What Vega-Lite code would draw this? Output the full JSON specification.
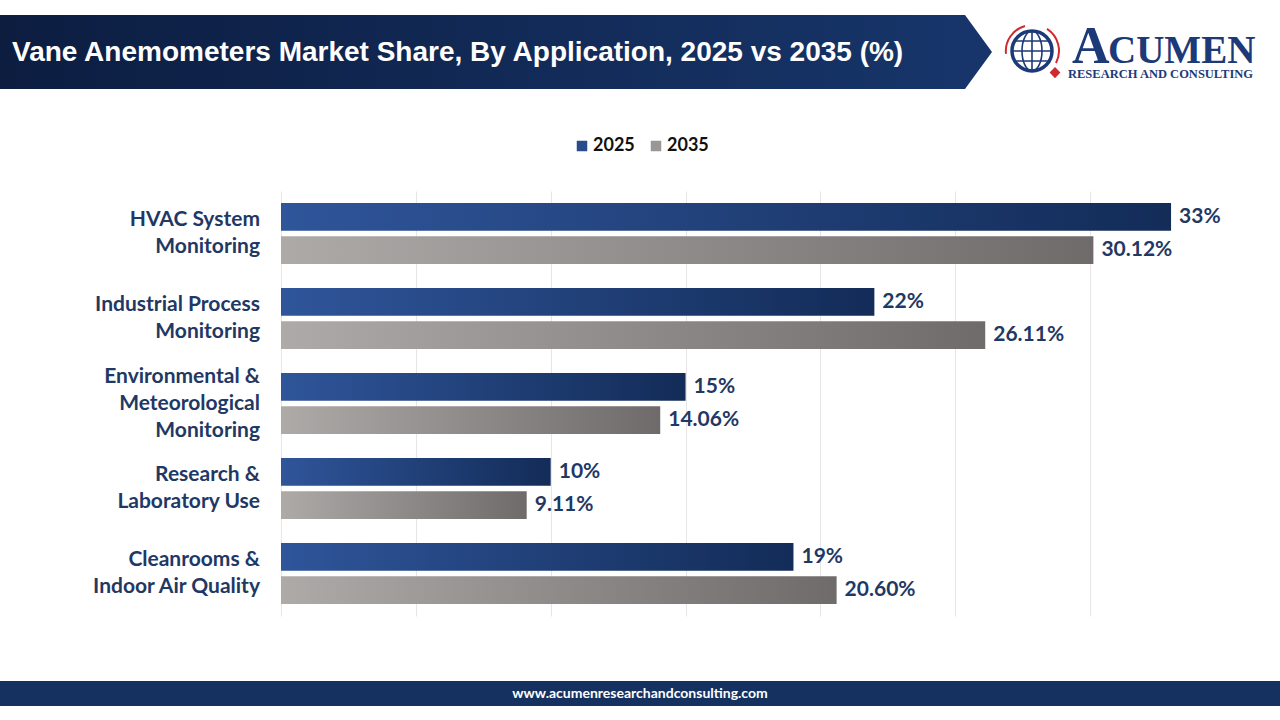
{
  "$schema": "https://vega.github.io/schema/vega-lite/v6.json",
  "background": "white",
  "padding": {"left": 0, "top": 15, "right": 0, "bottom": 14},
  "config": {"view": {"stroke": null}, "font": "Lato"},
  "datasets": {
    "shares": [
      {"category": "HVAC System\nMonitoring", "year": "2025", "value": 33, "label": "33%"},
      {"category": "HVAC System\nMonitoring", "year": "2035", "value": 30.12, "label": "30.12%"},
      {"category": "Industrial Process\nMonitoring", "year": "2025", "value": 22, "label": "22%"},
      {"category": "Industrial Process\nMonitoring", "year": "2035", "value": 26.11, "label": "26.11%"},
      {"category": "Environmental &\nMeteorological\nMonitoring", "year": "2025", "value": 15, "label": "15%"},
      {"category": "Environmental &\nMeteorological\nMonitoring", "year": "2035", "value": 14.06, "label": "14.06%"},
      {"category": "Research &\nLaboratory Use", "year": "2025", "value": 10, "label": "10%"},
      {"category": "Research &\nLaboratory Use", "year": "2035", "value": 9.11, "label": "9.11%"},
      {"category": "Cleanrooms &\nIndoor Air Quality", "year": "2025", "value": 19, "label": "19%"},
      {"category": "Cleanrooms &\nIndoor Air Quality", "year": "2035", "value": 20.6, "label": "20.60%"}
    ]
  },
  "spacing": 0,
  "bounds": "full",
  "resolve": {"scale": {"x": "independent", "y": "independent", "color": "independent"}},
  "vconcat": [
    {
      "spacing": 0,
      "bounds": "flush",
      "resolve": {"scale": {"x": "independent", "y": "independent"}},
      "hconcat": [
        {
          "width": 965,
          "height": 74,
          "data": {"values": [{"title": "Vane Anemometers Market Share, By Application, 2025 vs 2035 (%)"}]},
          "layer": [
            {
              "mark": {"type": "rect", "color": {"gradient": "linear", "x1": 0, "x2": 1, "y1": 0, "y2": 0, "stops": [{"offset": 0, "color": "#0c1d40"}, {"offset": 1, "color": "#17356a"}]}},
              "encoding": {
                "x": {"datum": 0, "type": "quantitative", "scale": {"domain": [0, 1]}, "axis": null},
                "x2": {"datum": 1},
                "y": {"datum": 0, "type": "quantitative", "scale": {"domain": [0, 1]}, "axis": null},
                "y2": {"datum": 1}
              }
            },
            {
              "mark": {"type": "text", "align": "left", "baseline": "middle", "dx": 12, "dy": 1, "font": "Liberation Sans", "fontWeight": "bold", "fontSize": 28, "color": "white"},
              "encoding": {
                "x": {"datum": 0, "type": "quantitative"},
                "y": {"datum": 0.5, "type": "quantitative"},
                "text": {"field": "title"}
              }
            }
          ]
        },
        {
          "width": 315,
          "height": 74,
          "data": {"values": [{"a": "A", "c": "CUMEN", "b": "RESEARCH AND CONSULTING"}]},
          "encoding": {
            "x": {"datum": 0, "type": "quantitative", "scale": {"domain": [0, 1]}, "axis": null},
            "y": {"datum": 0.5, "type": "quantitative", "scale": {"domain": [0, 1]}, "axis": null}
          },
          "layer": [
            {
              "mark": {"type": "point", "shape": "M 0 -1 L 0.73 0 L 0 1 Z", "size": 5476, "filled": true, "color": "#17356a", "strokeWidth": 0, "opacity": 1}
            },
            {
              "mark": {"type": "point", "shape": "M -1 0 A 1 1 0 1 1 1 0 A 1 1 0 1 1 -1 0 Z", "size": 1600, "filled": false, "stroke": "#1d3a78", "strokeWidth": 3.5, "opacity": 1},
              "encoding": {"x": {"datum": 0.2127, "type": "quantitative"}, "y": {"datum": 0.514, "type": "quantitative"}}
            },
            {
              "mark": {"type": "point", "shape": "M 0 -1 A 0.5 1 0 1 1 0 1 A 0.5 1 0 1 1 0 -1 M -1 0 L 1 0 M -0.85 -0.5 L 0.85 -0.5 M -0.85 0.5 L 0.85 0.5 M 0 -1 L 0 1", "size": 1600, "filled": false, "stroke": "#1d3a78", "strokeWidth": 1.6, "opacity": 1},
              "encoding": {"x": {"datum": 0.2127, "type": "quantitative"}, "y": {"datum": 0.514, "type": "quantitative"}}
            },
            {
              "mark": {"type": "point", "shape": "M -1.3 0.15 A 1.3 1.3 0 0 1 -0.35 -1.25 M 0.75 -1.1 A 1.3 1.3 0 0 1 1.2 0.6", "size": 1600, "filled": false, "stroke": "#cf2a2f", "strokeWidth": 2, "opacity": 1},
              "encoding": {"x": {"datum": 0.2127, "type": "quantitative"}, "y": {"datum": 0.514, "type": "quantitative"}}
            },
            {
              "mark": {"type": "point", "shape": "M 1.15 0.8 L 1.42 1.08 L 1.15 1.36 L 0.88 1.08 Z", "size": 1600, "filled": true, "color": "#cf2a2f", "strokeWidth": 0, "opacity": 1},
              "encoding": {"x": {"datum": 0.2127, "type": "quantitative"}, "y": {"datum": 0.514, "type": "quantitative"}}
            },
            {
              "mark": {"type": "text", "align": "left", "baseline": "alphabetic", "font": "Liberation Serif", "fontWeight": "bold", "fontSize": 52, "color": "#1d3a78"},
              "encoding": {
                "x": {"datum": 0.34, "type": "quantitative"},
                "y": {"datum": 0.351, "type": "quantitative"},
                "text": {"field": "a"}
              }
            },
            {
              "mark": {"type": "text", "align": "left", "baseline": "alphabetic", "font": "Liberation Serif", "fontWeight": "bold", "fontSize": 39, "color": "#1d3a78"},
              "encoding": {
                "x": {"datum": 0.454, "type": "quantitative"},
                "y": {"datum": 0.351, "type": "quantitative"},
                "text": {"field": "c"}
              }
            },
            {
              "mark": {"type": "text", "align": "left", "baseline": "alphabetic", "font": "Liberation Serif", "fontWeight": "bold", "fontSize": 12.5, "color": "#1d3a78"},
              "encoding": {
                "x": {"datum": 0.327, "type": "quantitative"},
                "y": {"datum": 0.149, "type": "quantitative"},
                "text": {"field": "b"}
              }
            }
          ]
        }
      ]
    },
    {
      "width": 1280,
      "height": 102,
      "data": {"values": [{"year": "2025"}, {"year": "2035"}]},
      "mark": {"type": "bar"},
      "encoding": {
        "x": {"datum": 0, "type": "quantitative", "stack": null, "scale": {"domain": [0, 1]}, "axis": null},
        "color": {"field": "year", "type": "nominal", "scale": {"domain": ["2025", "2035"], "range": ["#2a4c8a", "#9a9796"]},
          "legend": {"orient": "none", "legendX": 573, "legendY": 48, "direction": "horizontal", "title": null, "symbolType": "square", "symbolSize": 110, "symbolStrokeWidth": 0, "labelFontSize": 18, "labelFontWeight": "bold", "labelFont": "Lato", "labelColor": "#111111", "columnPadding": 12, "labelOffset": 2}}
      }
    },
    {
      "spacing": 21,
      "bounds": "flush",
      "resolve": {"scale": {"x": "independent", "y": "independent", "color": "independent"}},
      "hconcat": [
        {
          "width": 260,
          "height": 425,
          "data": {"name": "shares"},
          "transform": [
            {"filter": "datum.year == '2025'"},
            {"calculate": "split(datum.category, '\\n')", "as": "lines"}
          ],
          "encoding": {
            "y": {"field": "category", "type": "nominal", "scale": {"domain": ["HVAC System\nMonitoring", "Industrial Process\nMonitoring", "Environmental &\nMeteorological\nMonitoring", "Research &\nLaboratory Use", "Cleanrooms &\nIndoor Air Quality"], "paddingInner": 0.28, "paddingOuter": 0.14}, "axis": null},
            "x": {"datum": 1, "type": "quantitative", "scale": {"domain": [0, 1]}, "axis": null},
            "text": {"field": "lines"}
          },
          "layer": [
            {
              "transform": [{"filter": "length(datum.lines) == 2"}],
              "mark": {"type": "text", "align": "right", "baseline": "middle", "dy": -13.5, "fontSize": 21, "fontWeight": "bold", "color": "#1f3864", "lineHeight": 27}
            },
            {
              "transform": [{"filter": "length(datum.lines) == 3"}],
              "mark": {"type": "text", "align": "right", "baseline": "middle", "dy": -27, "fontSize": 21, "fontWeight": "bold", "color": "#1f3864", "lineHeight": 27}
            }
          ]
        },
        {
          "width": 944,
          "height": 425,
          "data": {"name": "shares"},
          "encoding": {
            "y": {"field": "category", "type": "nominal", "scale": {"domain": ["HVAC System\nMonitoring", "Industrial Process\nMonitoring", "Environmental &\nMeteorological\nMonitoring", "Research &\nLaboratory Use", "Cleanrooms &\nIndoor Air Quality"], "paddingInner": 0.28, "paddingOuter": 0.14}, "axis": null},
            "yOffset": {"field": "year", "type": "nominal", "scale": {"domain": ["2025", "2035"], "paddingInner": 0.16, "paddingOuter": 0}},
            "x": {"field": "value", "type": "quantitative", "scale": {"domain": [0, 35], "nice": false}, "axis": {"values": [0, 5, 10, 15, 20, 25, 30], "labels": false, "ticks": false, "domain": false, "grid": true, "gridColor": "#e6e6e6", "gridWidth": 1, "title": null}}
          },
          "layer": [
            {
              "transform": [{"filter": "datum.year == '2025'"}],
              "mark": {"type": "bar", "color": {"gradient": "linear", "x1": 0, "x2": 1, "y1": 0, "y2": 0, "stops": [{"offset": 0, "color": "#2f559a"}, {"offset": 1, "color": "#132c58"}]}}
            },
            {
              "transform": [{"filter": "datum.year == '2035'"}],
              "mark": {"type": "bar", "color": {"gradient": "linear", "x1": 0, "x2": 1, "y1": 0, "y2": 0, "stops": [{"offset": 0, "color": "#aeaaa8"}, {"offset": 1, "color": "#6f6b6a"}]}}
            },
            {
              "mark": {"type": "text", "align": "left", "baseline": "middle", "dx": 8, "fontSize": 21, "fontWeight": "bold", "color": "#1f3864"},
              "encoding": {"text": {"field": "label"}}
            }
          ]
        }
      ]
    },
    {
      "width": 10,
      "height": 65,
      "data": {"values": [{}]},
      "mark": {"type": "text", "text": ""},
      "encoding": {}
    },
    {
      "width": 1280,
      "height": 25,
      "data": {"values": [{"url": "www.acumenresearchandconsulting.com"}]},
      "layer": [
        {
          "mark": {"type": "rect", "color": "#15315f"},
          "encoding": {
            "x": {"datum": 0, "type": "quantitative", "scale": {"domain": [0, 1]}, "axis": null},
            "x2": {"datum": 1},
            "y": {"datum": 0, "type": "quantitative", "scale": {"domain": [0, 1]}, "axis": null},
            "y2": {"datum": 1}
          }
        },
        {
          "mark": {"type": "text", "align": "center", "baseline": "middle", "fontSize": 14, "fontWeight": "bold", "color": "white"},
          "encoding": {
            "x": {"datum": 0.5, "type": "quantitative"},
            "y": {"datum": 0.5, "type": "quantitative"},
            "text": {"field": "url"}
          }
        }
      ]
    }
  ]
}
